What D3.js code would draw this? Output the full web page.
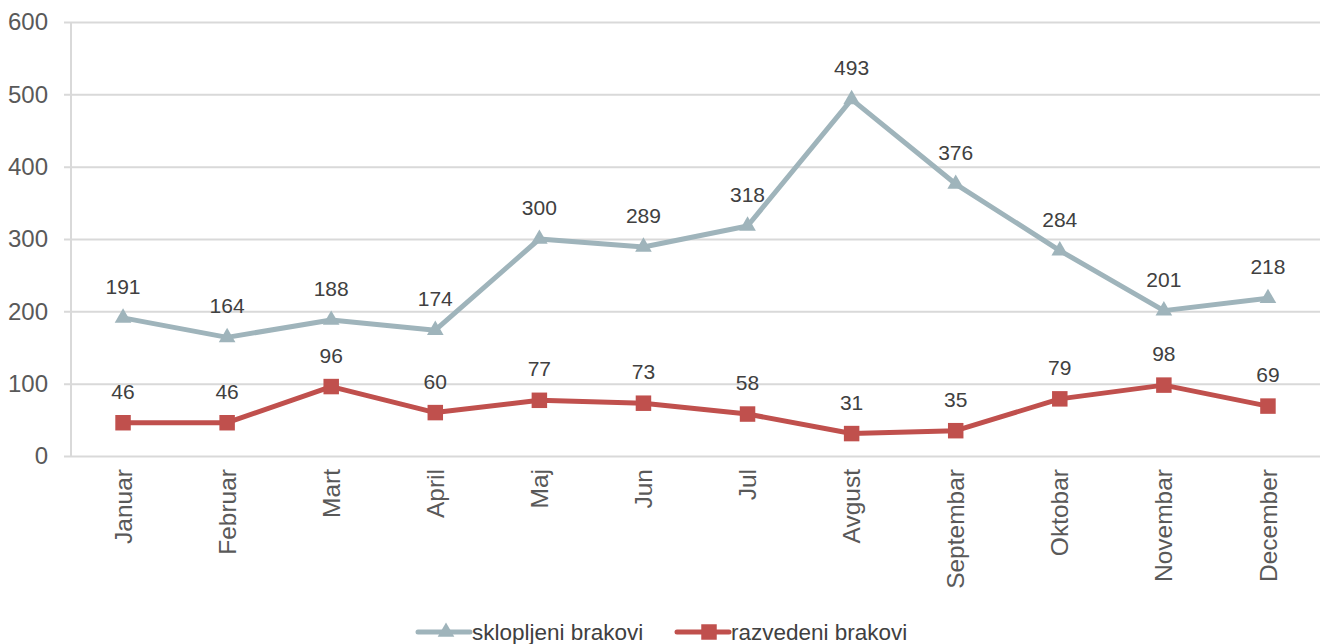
<!DOCTYPE html>
<meta charset="utf-8">
<style>
body { margin: 0; background: #fff; }
text { font-family: Arial, "Liberation Sans", sans-serif; }
</style>
<body>
<script src="https://d3js.org/d3.v7.min.js"></script>
<script>

// data
var months = ["Januar", "Februar", "Mart", "April", "Maj", "Jun", "Jul", "Avgust", "Septembar", "Oktobar", "Novembar", "December"];
var sklopljeni = [191, 164, 188, 174, 300, 289, 318, 493, 376, 284, 201, 218];
var razvedeni = [46, 46, 96, 60, 77, 73, 58, 31, 35, 79, 98, 69];
var yTicks = [0, 100, 200, 300, 400, 500, 600];

var W = 1320, H = 644;
var margin = {top: 22, right: 0, bottom: 188, left: 71};
var width = W - margin.left - margin.right,
    height = H - margin.top - margin.bottom;

var svg = d3.select("body").append("svg")
    .attr("width", W)
    .attr("height", H);

var g = svg.append("g")
    .attr("transform", "translate(" + margin.left + "," + margin.top + ")");

var x = d3.scaleBand().domain(months).range([0, width]);
var y = d3.scaleLinear().domain([0, 600]).range([height, 0]);

// grid lines + y axis
var yAxis = g.append("g")
    .call(d3.axisLeft(y).tickValues(yTicks).tickSize(7).tickPadding(16));
yAxis.select(".domain").remove();
yAxis.selectAll("line").attr("stroke", "#d9d9d9").attr("stroke-width", 2)
    .attr("x2", width).attr("x1", -7);
yAxis.selectAll("text").attr("fill", "#595959").style("font-size", "24px");

// vertical axis line
g.append("line")
    .attr("x1", 0).attr("x2", 0).attr("y1", 0).attr("y2", height)
    .attr("stroke", "#d9d9d9").attr("stroke-width", 2);

// x axis labels
var xAxis = g.append("g")
    .attr("transform", "translate(0," + height + ")")
    .call(d3.axisBottom(x).tickSize(0).tickPadding(0));
xAxis.select(".domain").remove();
xAxis.selectAll("text")
    .attr("fill", "#595959")
    .style("font-size", "24.5px")
    .attr("text-anchor", "end")
    .attr("transform", "rotate(-90)")
    .attr("x", -13)
    .attr("y", 0)
    .attr("dy", "0.35em");

function cx(d, i) { return x(months[i]) + x.bandwidth() / 2; }

var line = d3.line()
    .x(function(d, i) { return cx(d, i); })
    .y(function(d) { return y(d); });

var series = [
  {name: "sklopljeni brakovi", values: sklopljeni, color: "#9fb4bb", symbol: d3.symbolTriangle, size: 120},
  {name: "razvedeni brakovi", values: razvedeni, color: "#c0504d", symbol: d3.symbolSquare, size: 240}
];

series.forEach(function(s) {
  g.append("path")
      .datum(s.values)
      .attr("fill", "none")
      .attr("stroke", s.color)
      .attr("stroke-width", 5)
      .attr("stroke-linejoin", "round")
      .attr("d", line);

  g.selectAll(null)
      .data(s.values)
    .enter().append("path")
      .attr("d", d3.symbol().type(s.symbol).size(s.size))
      .attr("fill", s.color)
      .attr("transform", function(d, i) { return "translate(" + cx(d, i) + "," + y(d) + ")"; });

  g.selectAll(null)
      .data(s.values)
    .enter().append("text")
      .attr("x", function(d, i) { return cx(d, i); })
      .attr("y", function(d) { return y(d) - 24; })
      .attr("text-anchor", "middle")
      .attr("fill", "#404040")
      .style("font-size", "21px")
      .text(function(d) { return d; });
});

// legend
var legend = svg.append("g").attr("transform", "translate(0,632)");
var legX = [418, 677];
series.forEach(function(s, i) {
  var lg = legend.append("g").attr("transform", "translate(" + legX[i] + ",0)");
  lg.append("line")
      .attr("x1", 0).attr("x2", 52).attr("y1", 0).attr("y2", 0)
      .attr("stroke", s.color).attr("stroke-width", 5).attr("stroke-linecap", "round");
  lg.append("path")
      .attr("d", d3.symbol().type(s.symbol).size(s.size))
      .attr("fill", s.color)
      .attr("transform", "translate(" + (i === 0 ? 28 : 32) + ",0)");
  lg.append("text")
      .attr("x", 54).attr("y", 0).attr("dy", "0.35em")
      .attr("fill", "#404040")
      .style("font-size", "22.5px")
      .text(s.name);
});

</script>
</body>
